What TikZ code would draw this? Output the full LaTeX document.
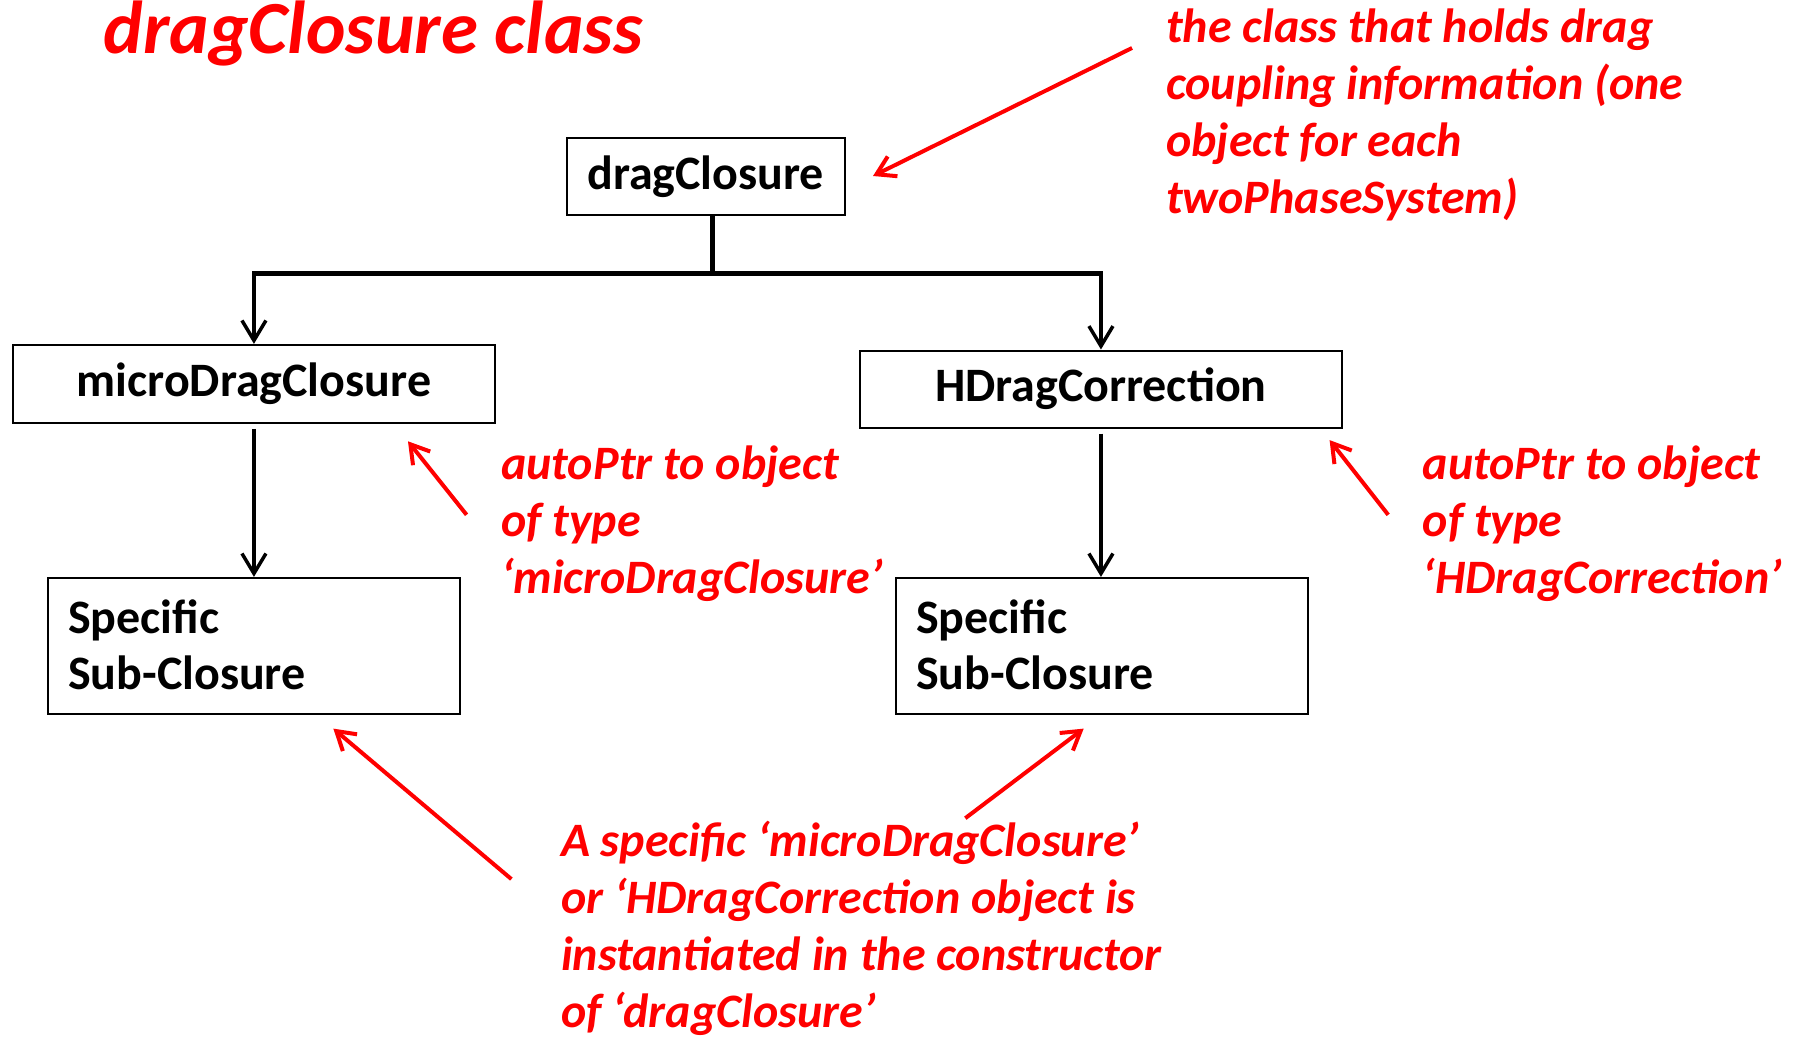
\documentclass[tikz,border=0pt]{standalone}
\usepackage{fontspec}
\setmainfont{Carlito}
\usetikzlibrary{arrows.meta}
\definecolor{annot}{RGB}{255,0,0}
\newcommand{\boxlabel}[1]{\raisebox{-4.5pt}{#1}}
\begin{document}
\begin{tikzpicture}[x=1pt,y=-1pt,
  classbox/.style={draw=black,line width=2pt,inner sep=0pt,
    font=\fontsize{48}{56}\selectfont\bfseries},
  subbox/.style={classbox,anchor=north west,align=left,inner xsep=20pt,
    inner ysep=0pt,minimum height=135.6pt,text width=371.4pt,
    font=\fontsize{48}{56}\selectfont\bfseries},
  bus/.style={draw=black,line width=4.5pt},
  link/.style={draw=black,line width=3.5pt,
    -{Straight Barb[length=20pt,width=24pt,line width=3.5pt]}},
  note/.style={text=annot,anchor=north west,align=left,inner sep=0pt,
    font=\fontsize{48}{57}\selectfont\bfseries\itshape},
  pointer/.style={draw=annot,line width=4pt,
    -{Straight Barb[length=18pt,width=22pt,line width=4pt]}}
]
\useasboundingbox[fill=white] (0,0) rectangle (1802,1037);

% heading
\node[text=annot,anchor=base west,inner sep=0pt,
  font=\fontsize{75}{88}\selectfont\bfseries\itshape] (title) at (103.4,53.5) {dragClosure class};

% class boxes
\node[classbox,minimum width=278pt,minimum height=77pt] (dc) at (705.65,176.4) {\boxlabel{dragClosure}};
\node[classbox,minimum width=482.7pt,minimum height=78pt] (mdc) at (253.95,383.85) {\boxlabel{microDragClosure}};
\node[classbox,minimum width=482.7pt,minimum height=77pt] (hdc) at (1100.95,389) {\boxlabel{HDragCorrection}};
\node[subbox] (subL) at (47.1,576.9) {\rule{0pt}{56pt}Specific\\Sub-Closure\rule[-23.6pt]{0pt}{0pt}};
\node[subbox] (subR) at (895.2,576.9) {\rule{0pt}{56pt}Specific\\Sub-Closure\rule[-23.6pt]{0pt}{0pt}};

% inheritance tree
\coordinate (junc) at (712.5,273.5);
\draw[bus] (dc.south -| junc) -- (junc);
\draw[bus,line cap=rect] (mdc.north |- junc) -- (hdc.north |- junc);
\draw[link] (mdc.north |- junc) -- (mdc.north);
\draw[link] (hdc.north |- junc) -- (hdc.north);
\draw[link,shorten <=5pt] (mdc.south) -- (mdc.south |- subL.north);
\draw[link,shorten <=5pt] (hdc.south) -- (hdc.south |- subR.north);

% annotations
\node[note] (nTop) at (1166,-2.5) {\rule{0pt}{45pt}the class that holds drag\\coupling information (one\\object for each\\twoPhaseSystem)};
\node[note] (nMid) at (501,434) {\rule{0pt}{45pt}autoPtr to object\\of type\\‘microDragClosure’};
\node[note] (nRight) at (1422.7,434) {\rule{0pt}{45pt}autoPtr to object\\of type\\‘HDragCorrection’};
\node[note] (nBot) at (560.8,811) {\rule{0pt}{45pt}A specific ‘microDragClosure’\\or ‘HDragCorrection object is\\instantiated in the constructor\\of ‘dragClosure’};

\coordinate (p1s) at (1132,48);    \coordinate (p1e) at (873,176);
\coordinate (p2s) at (466.6,514.8); \coordinate (p2e) at (408,441.3);
\coordinate (p3s) at (1388.2,514.8); \coordinate (p3e) at (1329.6,440.1);
\coordinate (p4s) at (511.4,879.1); \coordinate (p4e) at (333.3,728.6);
\coordinate (p5s) at (965.3,818.2); \coordinate (p5e) at (1083.7,728.6);
\draw[pointer] (p1s) -- (p1e);
\draw[pointer] (p2s) -- (p2e);
\draw[pointer] (p3s) -- (p3e);
\draw[pointer] (p4s) -- (p4e);
\draw[pointer] (p5s) -- (p5e);
\end{tikzpicture}
\end{document}
